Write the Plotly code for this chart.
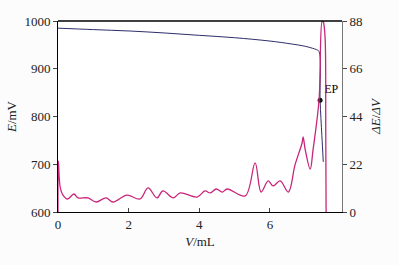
import plotly.graph_objects as go

# Potential curve E (mV) vs V (mL)
v_e = [0.0, 1.0, 2.04, 3.0, 4.0, 5.0, 6.0, 6.6, 7.0, 7.2, 7.32, 7.39, 7.42, 7.47, 7.51]
e_mv = [985, 982, 979, 975, 970, 965, 958, 952, 947, 943, 940, 936, 834, 760, 705]

# First derivative dE/dV vs V
v_d = [0.0, 0.01, 0.06, 0.14, 0.27, 0.45, 0.57, 0.85, 1.08, 1.36, 1.56, 1.95, 2.32, 2.55,
       2.80, 2.97, 3.26, 3.46, 3.94, 4.16, 4.31, 4.48, 4.65, 4.79, 5.30, 5.58, 5.75, 5.95,
       6.09, 6.29, 6.52, 6.71, 6.91, 6.94, 7.00, 7.14, 7.22, 7.39, 7.48, 7.51, 7.56, 7.58, 7.59]
de_dv = [0.0, 23.6, 11.5, 7.8, 6.0, 8.3, 6.5, 6.5, 4.6, 6.5, 4.6, 7.8, 6.0, 11.1,
         6.5, 9.7, 6.5, 8.8, 6.9, 9.7, 8.8, 10.6, 9.2, 10.6, 7.4, 22.6, 9.2, 14.3,
         12.0, 14.3, 9.2, 21.7, 31.8, 34.6, 28.6, 19.8, 28.6, 51.6, 88.0, 87.6, 80.6, 37.8, 0.0]

# End point
ep_v = [7.42]
ep_e = [834]
ep_label = ["EP"]

x_ticks = [0, 2, 4, 6]
y_ticks = [600, 700, 800, 900, 1000]
y2_ticks = [0, 22, 44, 66, 88]

FONT = "Liberation Serif"

fig = go.Figure()
fig.add_trace(go.Scatter(x=v_e, y=e_mv, mode="lines", line=dict(color="#2e2d6b", width=1),
                         line_shape="spline", showlegend=False))
fig.add_trace(go.Scatter(x=v_d, y=de_dv, mode="lines", line=dict(color="#c8267a", width=1.3),
                         line_shape="spline", yaxis="y2", showlegend=False))
fig.add_trace(go.Scatter(x=ep_v, y=ep_e, mode="markers+text", text=ep_label,
                         textposition="top right", textfont=dict(family=FONT, size=12, color="black"),
                         marker=dict(color="#111", size=5), showlegend=False))

fig.update_layout(
    width=399, height=265,
    margin=dict(l=58, r=57, t=21, b=53),
    paper_bgcolor="#fcfcfc", plot_bgcolor="white",
    font=dict(family=FONT, size=13, color="#222"),
    xaxis=dict(range=[0, 8.04], tickvals=x_ticks, ticks="inside", ticklen=4,
               showline=True, linecolor="black", linewidth=1, mirror=False,
               showgrid=False, zeroline=False,
               title=dict(text="<i>V</i>/mL", standoff=6, font=dict(size=13))),
    yaxis=dict(range=[600, 1000], tickvals=y_ticks, ticks="outside", ticklen=4,
               showline=True, linecolor="black", linewidth=1,
               showgrid=False, zeroline=False,
               title=dict(text="<i>E</i>/mV", standoff=4, font=dict(size=13))),
    yaxis2=dict(range=[0, 88], tickvals=y2_ticks, ticks="outside", ticklen=4,
                overlaying="y", side="right", showline=True, linecolor="#777", linewidth=1,
                showgrid=False, zeroline=False,
                title=dict(text="<i>ΔE</i>/<i>ΔV</i>", standoff=8, font=dict(size=13))),
    shapes=[dict(type="line", xref="paper", yref="paper", x0=0, x1=1, y0=1, y1=1,
                 line=dict(color="black", width=1.5))],
)

fig.write_html("out.html")
